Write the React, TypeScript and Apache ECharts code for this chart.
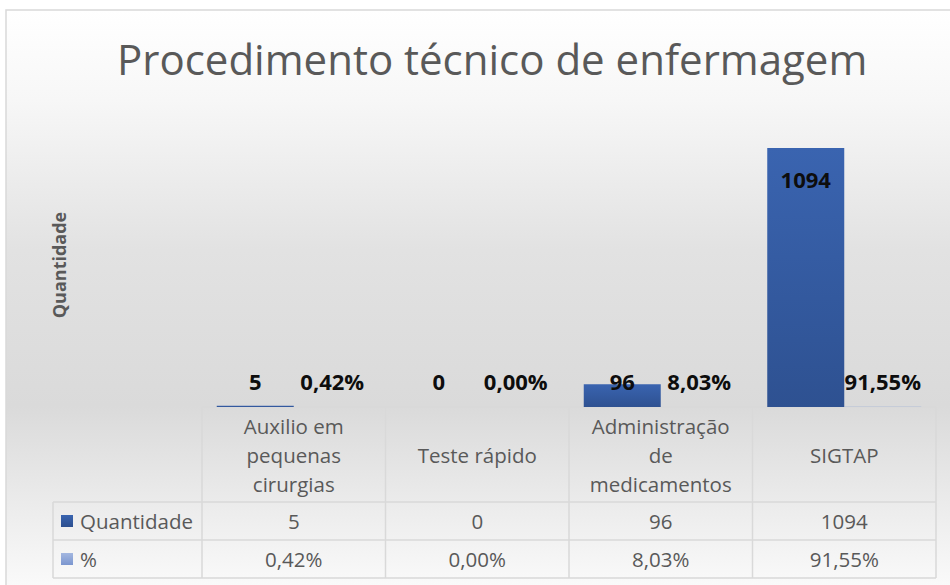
import React, { useEffect, useRef } from "react";
import * as echarts from "echarts";

const title = "Procedimento técnico de enfermagem";
const categories = ["Auxilio em pequenas cirurgias", "Teste rápido", "Administração de medicamentos", "SIGTAP"];
const categoryLines = ["Auxilio em\npequenas\ncirurgias", "Teste rápido", "Administração\nde\nmedicamentos", "SIGTAP"];
const seriesNames = ["Quantidade", "%"];
const quantidade = [5, 0, 96, 1094];
const percent = [0.0042, 0.0, 0.0803, 0.9155];
const yAxisName = "Quantidade";

const FONT = "'Open Sans', 'Noto Sans', sans-serif";
const GRID_L = 202;
const GRID_R = 936;
const BASE = 407;
const ROW1 = 502;
const ROW2 = 540;
const ROW3 = 578;
const LEG_L = 53;
const LINE = "#d9d9d9";
const TEXT = "#595959";
const TABLE_FS = 20.5;

const fmtPct = (v: number) => (v * 100).toFixed(2).replace(".", ",") + "%";

export default function App() {
  const ref = useRef<HTMLDivElement>(null);
  useEffect(() => {
    document.body.style.margin = "0";
    const chart = echarts.init(ref.current!, null, { renderer: "svg" });
    const n = categories.length;
    const cw = (GRID_R - GRID_L) / n;
    const graphics: any[] = [];
    graphics.push({
      type: "rect",
      z: -10,
      silent: true,
      shape: { x: 6, y: 10, width: 960, height: 600 },
      style: {
        fill: new echarts.graphic.LinearGradient(0, 0, 0, 1, [
          { offset: 0, color: "#ffffff" },
          { offset: 0.15, color: "#f7f7f7" },
          { offset: 0.4, color: "#e2e2e2" },
          { offset: 0.66, color: "#dadada" },
          { offset: 1, color: "#fefefe" },
        ]),
        stroke: LINE,
        lineWidth: 1.5,
      },
    });
    const ln = (x1: number, y1: number, x2: number, y2: number) =>
      graphics.push({ type: "line", z: 1, silent: true, shape: { x1, y1, x2, y2 }, style: { stroke: LINE, lineWidth: 1.5 } });
    ln(GRID_L, BASE, GRID_R, BASE);
    ln(LEG_L, ROW1, GRID_R, ROW1);
    ln(LEG_L, ROW2, GRID_R, ROW2);
    ln(LEG_L, ROW3, GRID_R, ROW3);
    ln(LEG_L, ROW1, LEG_L, ROW3);
    for (let i = 0; i <= n; i++) ln(GRID_L + cw * i, BASE, GRID_L + cw * i, ROW3);
    const rows = [
      { name: seriesNames[0], vals: quantidade.map((v) => String(v)), y: (ROW1 + ROW2) / 2, c1: "#3964b0", c2: "#2c4f8f" },
      { name: seriesNames[1], vals: percent.map(fmtPct), y: (ROW2 + ROW3) / 2, c1: "#a3b7e0", c2: "#7b96cf" },
    ];
    rows.forEach((r) => {
      graphics.push({
        type: "rect",
        z: 2,
        silent: true,
        shape: { x: 61, y: r.y - 6, width: 12, height: 12 },
        style: { fill: new echarts.graphic.LinearGradient(0, 0, 0, 1, [{ offset: 0, color: r.c1 }, { offset: 1, color: r.c2 }]) },
      });
      graphics.push({
        type: "text",
        z: 2,
        silent: true,
        x: 80,
        y: r.y,
        style: { text: r.name, fontFamily: FONT, fontSize: TABLE_FS, fill: TEXT, align: "left", verticalAlign: "middle" },
      });
      r.vals.forEach((v, i) => {
        graphics.push({
          type: "text",
          z: 2,
          silent: true,
          x: GRID_L + cw * (i + 0.5),
          y: r.y,
          style: { text: v, fontFamily: FONT, fontSize: TABLE_FS, fill: TEXT, align: "center", verticalAlign: "middle" },
        });
      });
    });

    const smallLabel = {
      show: true,
      position: "insideBottom",
      distance: 15,
      fontFamily: FONT,
      fontSize: 22,
      fontWeight: "bold",
      color: "#0d0d0d",
    };

    chart.setOption({
      animation: false,
      title: {
        text: title,
        left: 112,
        top: 32,
        textStyle: { fontFamily: FONT, fontSize: 42, fontWeight: "normal", color: TEXT },
      },
      grid: { left: GRID_L, right: 950 - GRID_R, top: 123, bottom: 585 - BASE },
      xAxis: {
        type: "category",
        data: categories,
        axisLine: { show: false },
        axisTick: { show: false },
        axisLabel: {
          interval: 0,
          margin: (ROW1 - BASE) / 2,
          verticalAlign: "middle",
          lineHeight: 29,
          fontFamily: FONT,
          fontSize: TABLE_FS,
          color: TEXT,
          formatter: (_v: string, i: number) => categoryLines[i],
        },
      },
      yAxis: {
        type: "value",
        min: 0,
        max: 1200,
        axisLabel: { show: false },
        splitLine: { show: false },
        axisLine: { show: false },
        axisTick: { show: false },
        name: yAxisName,
        nameLocation: "middle",
        nameGap: 134,
        nameTextStyle: { fontFamily: FONT, fontSize: 18, fontWeight: "bold", color: TEXT },
      },
      series: [
        {
          name: seriesNames[0],
          type: "bar",
          barWidth: 77,
          barGap: "0%",
          data: quantidade.map((v) => ({
            value: v,
            label: v > 500 ? { ...smallLabel, position: "insideTop", distance: 20 } : smallLabel,
          })),
          itemStyle: {
            color: new echarts.graphic.LinearGradient(0, 0, 0, 1, [
              { offset: 0, color: "#3a64b0" },
              { offset: 1, color: "#2e5191" },
            ]),
          },
        },
        {
          name: seriesNames[1],
          type: "bar",
          barWidth: 77,
          data: percent,
          label: { ...smallLabel, formatter: (p: any) => fmtPct(p.value) },
          itemStyle: { color: "#8ea7d8" },
        },
      ],
      graphic: graphics,
    });
    return () => chart.dispose();
  }, []);
  return <div ref={ref} style={{ width: 950, height: 585 }} />;
}
